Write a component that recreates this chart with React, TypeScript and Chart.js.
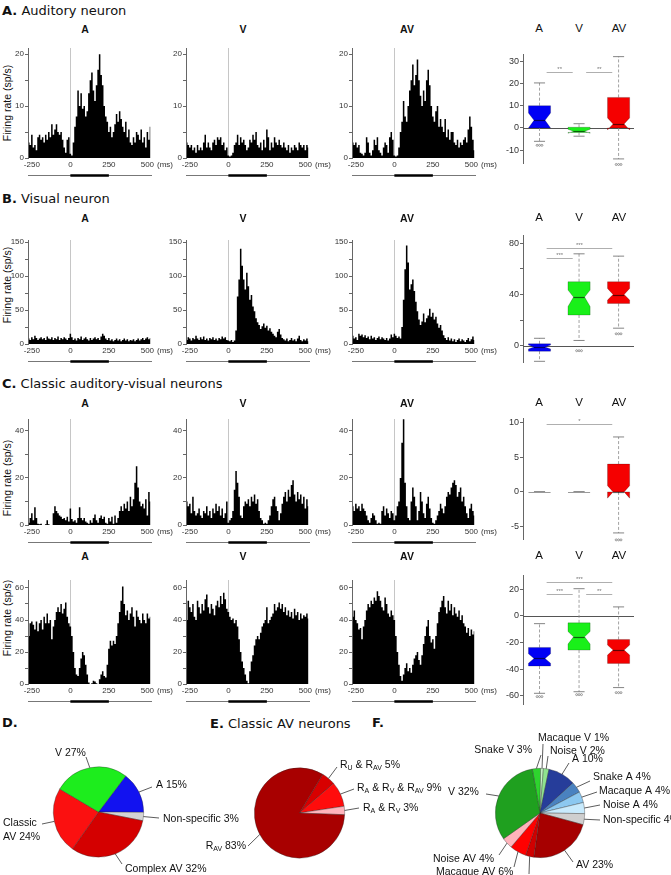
import React, { useEffect, useRef } from 'react';
import { Chart, registerables } from 'chart.js';

Chart.register(...registerables);
Chart.defaults.font.family = '"Liberation Sans", Arial, sans-serif';

// ---------- PSTH data (10 ms bins, bin centres in ms) ----------
const TIME_BINS = [
  -270, -260, -250, -240, -230, -220, -210, -200, -190, -180,
  -170, -160, -150, -140, -130, -120, -110, -100, -90, -80,
  -70, -60, -50, -40, -30, -20, -10, 0, 10, 20,
  30, 40, 50, 60, 70, 80, 90, 100, 110, 120,
  130, 140, 150, 160, 170, 180, 190, 200, 210, 220,
  230, 240, 250, 260, 270, 280, 290, 300, 310, 320,
  330, 340, 350, 360, 370, 380, 390, 400, 410, 420,
  430, 440, 450, 460, 470, 480, 490, 500, 510, 520,
];
const X_TICKS = [-250, 0, 250, 500];
const STIM_WINDOW = [0, 250];
const CONDITIONS = ['A', 'V', 'AV'];

// A. auditory neuron
const audA = [
  3, 2.5, 4.5, 2, 2.5, 1.5, 4, 4.5, 3.5, 4,
  3, 4.5, 3.5, 5, 4, 6.5, 4.5, 5.5, 6.5, 5,
  4.5, 5, 3.5, 2, 1, 3.5, 4, 0.8, 0.5, 3,
  6, 8, 13, 10, 12.5, 9.5, 10, 8, 9, 12.5,
  15, 16.5, 13, 11, 14, 17, 20, 16, 14, 10,
  8, 7, 5, 6, 4, 5, 6.5, 8.5, 7, 9,
  7.5, 6, 5, 7, 4, 5.5, 3, 2.5, 4, 3,
  5, 4.5, 3.5, 5.5, 3, 4, 2, 5, 3.5, 6,
];
const audV = [
  3, 2.5, 2, 2.5, 1.5, 2, 1, 2.5, 1.5, 2,
  1.5, 3, 4.5, 2, 3, 2, 1.5, 3, 3.5, 2.5,
  4, 3.5, 4, 2.5, 3, 1.5, 2, 0.5, 0.3, 0.5,
  1, 2.5, 3, 4.5, 2.5, 4, 3, 3.5, 2.5, 1.5,
  2, 3.5, 3, 4.5, 3.5, 5, 2.5, 2, 3, 1.5,
  3.5, 2, 5.5, 4, 1.5, 3, 2, 4, 3, 2.5,
  3.5, 2.5, 2, 3, 2, 1.5, 2.5, 1, 2, 1.5,
  2.5, 2, 1.5, 3, 2.5, 2, 2.5, 1.5, 2.5, 2,
];
const audAV = [
  3, 2.5, 3, 2, 2.5, 1, 0.8, 0.5, 1, 4,
  3, 1, 0.5, 1.5, 3.5, 2.5, 4, 1.5, 1, 0.5,
  2, 3, 2.5, 1, 4, 5, 3.5, 0.5, 0.3, 0.5,
  2, 5, 7, 11, 8, 7, 10, 13, 15, 18,
  14, 16, 19, 15, 12, 10, 13, 11, 15, 17,
  14, 10, 8, 7, 9, 10, 6, 7.5, 6, 5,
  7.5, 4, 5.5, 3.5, 5, 5, 3, 2.5, 3.5, 2,
  3, 2.5, 3.5, 4, 3, 5.5, 8, 6, 3.5, 1.5,
];

// B. visual neuron
const visA = [
  8, 6, 10, 7, 12, 9, 6, 8, 10, 7,
  9, 6, 11, 8, 7, 10, 6, 9, 7, 11,
  6, 9, 7, 10, 8, 6, 9, 15, 10, 6,
  8, 5, 9, 7, 11, 6, 8, 10, 7, 5,
  9, 6, 8, 10, 7, 9, 6, 11, 15, 12,
  8, 6, 9, 5, 7, 4, 6, 8, 5, 7,
  4, 6, 8, 5, 7, 4, 6, 5, 7, 4,
  6, 8, 5, 7, 9, 6, 8, 10, 7, 9,
];
const visV = [
  6, 10, 8, 5, 9, 7, 12, 8, 6, 10,
  7, 11, 6, 8, 5, 9, 7, 10, 6, 8,
  5, 9, 7, 11, 8, 10, 6, 5, 4, 6,
  3, 5, 20, 70, 95, 140, 115, 95, 80, 105,
  85, 65, 72, 55, 48, 38, 32, 28, 22, 26,
  30, 24, 27, 20, 23, 18, 15, 12, 10, 18,
  22, 14, 9, 7, 5, 8, 4, 6, 9, 5,
  7, 4, 8, 12, 6, 4, 7, 5, 8, 4,
];
const visAV = [
  12, 8, 10, 6, 15, 12, 14, 10, 13, 9,
  11, 7, 12, 8, 10, 6, 9, 11, 7, 10,
  8, 6, 9, 5, 8, 14, 10, 15, 12, 9,
  11, 8, 25, 65, 110, 145, 120, 80, 88, 95,
  78, 62, 48, 36, 28, 33, 45, 32, 38, 42,
  52, 40, 46, 36, 40, 30, 24, 28, 20, 13,
  9, 6, 10, 5, 8, 4, 7, 3, 6, 8,
  4, 7, 5, 3, 6, 9, 4, 7, 11, 6,
];

// C. classic auditory-visual neurons
const clsA = [
  1, 3, 5, 2, 7.5, 3, 0.5, 0.3, 0.5, 0,
  0, 0.3, 2, 0.3, 0, 0, 5, 8, 6, 5,
  4, 3.5, 2.5, 3, 2, 3.5, 1.5, 7, 2.5, 1.5,
  2, 1, 3, 7.5, 3, 2, 3, 1.5, 1, 0.5,
  2, 1, 3, 4.5, 2, 1, 3, 4, 2.5, 3.5,
  1, 0.5, 3, 1.5, 3.5, 0.5, 4, 1, 3, 6,
  8, 6, 9, 7, 10, 6, 12, 8, 11, 18,
  25, 16, 10, 8, 9, 7, 11, 4, 14, 10,
];
const clsV = [
  10, 8, 9, 5, 12, 6, 4, 5, 7, 4,
  3, 6, 5, 8, 4, 6, 3, 7, 5, 9,
  6, 8, 4, 7, 3, 5, 10, 1, 2, 3,
  6, 15, 23, 18, 12, 4, 3, 8, 10, 9,
  11, 8, 12, 10, 13, 9, 11, 6, 3, 2,
  0.5, 1, 0.5, 2, 4, 8, 11, 12, 8, 6,
  2, 5, 9, 12, 14, 10, 15, 12, 17, 19,
  13, 10, 14, 11, 13, 9, 12, 7, 11, 8,
];
const clsAV = [
  8, 6, 9, 7, 8, 6, 9, 7, 6, 4,
  2, 1, 3, 5, 4, 2, 0.5, 1, 0.5, 6,
  8, 4, 7, 5, 3, 6, 5, 2, 4, 8,
  10, 20, 35, 45, 18, 8, 3, 2, 10, 16,
  12, 8, 2, 6, 14, 10, 5, 3, 9, 12,
  7, 3, 1, 0.5, 2, 4, 6, 9, 7, 5,
  8, 12, 14, 13, 16, 18, 19, 17, 12, 14,
  16, 10, 12, 8, 5, 3, 7, 9, 6, 4,
];

// C (second row). suppressed / complex neuron
const cpxA = [
  30, 38, 39, 37, 34, 39, 33, 38, 40, 34,
  42, 38, 44, 38, 40, 28, 36, 40, 45, 48,
  45, 50, 44, 47, 51, 42, 38, 36, 30, 20,
  10, 6, 5, 10, 16, 20, 18, 12, 6, 1,
  0, 0.5, 2, 1.5, 0.5, 0, 3, 6, 8, 5,
  4, 12, 22, 27, 24, 27, 25, 30, 38, 45,
  52, 61, 50, 43, 46, 40, 44, 48, 42, 36,
  46, 42, 40, 38, 44, 40, 38, 44, 41, 42,
];
const cpxV = [
  40, 52, 48, 45, 50, 42, 40, 52, 48, 44,
  50, 46, 53, 56, 48, 44, 50, 47, 43, 49,
  52, 48, 55, 50, 57, 53, 47, 45, 42, 40,
  41, 38, 40, 36, 28, 20, 14, 10, 6, 2,
  0.5, 8, 14, 18, 24, 28, 30, 28, 32, 36,
  38, 40, 48, 38, 40, 42, 44, 50, 46, 48,
  51, 47, 50, 45, 48, 43, 46, 42, 45, 41,
  47, 43, 45, 40, 44, 41, 43, 42, 44, 41,
];
const cpxAV = [
  42, 46, 40, 38, 34, 35, 28, 36, 40, 46,
  50, 48, 52, 50, 54, 52, 58, 55, 52, 48,
  46, 54, 50, 44, 42, 46, 43, 40, 30, 20,
  12, 5, 2, 6, 10, 13, 8, 10, 7, 12,
  16, 18, 20, 15, 12, 18, 25, 30, 36, 40,
  30, 26, 28, 22, 30, 38, 45, 48, 52, 55,
  48, 44, 52, 46, 50, 43, 48, 44, 42, 46,
  40, 43, 38, 36, 32, 35, 30, 34, 31, 33,
];

// ---------- box-plot summaries (A, V, AV) ----------
const audQ1 = [0, -2, 0];
const audMed = [3.4, -1.5, 1.8];
const audQ3 = [10, 0.3, 13.7];
const audLo = [-6, -3.7, -13.9];
const audHi = [20.2, 1.9, 32];
const audNotchLo = [0, -2.4, -0.9];
const audNotchHi = [6.7, -0.6, 4.5];
const audOut = [[-7.8], [], [-16.4]];
const audSig = [[0, 1, 25.2, '**'], [1, 2, 25.2, '**']];

const visQ1 = [-4.3, 24, 33];
const visMed = [-1, 38, 40];
const visQ3 = [1.5, 50, 50];
const visLo = [-12.2, 4.1, 13.7];
const visHi = [5.8, 71.8, 70];
const visNotchLo = [-2.5, 30.6, 35.7];
const visNotchHi = [0.5, 43.5, 44.8];
const visOut = [[], [-3.9], [9.3]];
const visSig = [[0, 1, 68.3, '***'], [0, 2, 76.7, '***']];

const clsQ1 = [0, 0, 0];
const clsMed = [0, 0, 0];
const clsQ3 = [0, 0, 4];
const clsLo = [0, 0, -5.9];
const clsHi = [0, 0, 7.9];
const clsNotchLo = [0, 0, -0.9];
const clsNotchHi = [0, 0, 0.9];
const clsOut = [[], [], [-6.9]];
const clsSig = [[0, 2, 9.7, '*']];

const cpxQ1 = [-37.7, -25.7, -35.7];
const cpxMed = [-32, -15.7, -25.7];
const cpxQ3 = [-23.7, -5.2, -17.7];
const cpxLo = [-58.2, -57, -53.9];
const cpxHi = [-5.8, 20.5, 6.8];
const cpxNotchLo = [-35.5, -21.2, -29.4];
const cpxNotchHi = [-28.5, -11.7, -21.9];
const cpxOut = [[-60.7], [-59.2], [-57.7]];
const cpxSig = [[0, 1, 16.7, '***'], [1, 2, 16.7, '**'], [0, 2, 25.5, '***']];

const BOX_FILL = ['#0000f5', '#19f019', '#f50000'];

// ---------- pie data ----------
const typeNames = ['A', 'Non-specific', 'Complex AV', 'Classic AV', 'V'];
const typeShares = [15, 3, 32, 24, 27];
const typeColors = ['#1212f0', '#d4d4d4', '#d40000', '#fb1010', '#1ded1d'];

const classicNames = ['R_{U} & R_{AV}', 'R_{A} & R_{V} & R_{AV}', 'R_{A} & R_{V}', 'R_{AV}'];
const classicShares = [5, 9, 3, 83];
const classicColors = ['#d80000', '#ff0c0c', '#ffb4bc', '#a80000'];

const stimNames = [
  'Snake V', 'Macaque V', 'Noise V', 'A', 'Snake A', 'Macaque A', 'Noise A',
  'Non-specific', 'AV', 'Snake AV', 'Macaque AV', 'Noise AV', 'V',
];
const stimShares = [3, 1, 2, 10, 4, 4, 4, 4, 23, 3, 6, 4, 32];
const stimColors = [
  '#2ed42e', '#c4f5c4', '#8fe38f', '#263d9a', '#4a82c0', '#8cc8f0', '#c8eafc',
  '#cfcfcf', '#a60000', '#d00000', '#ff0000', '#ffb3bb', '#1fa01f',
];

// ---------- layout ----------
const LABEL_FONT = '"Liberation Sans", Arial, sans-serif';
const TITLE_FONT = '"DejaVu Sans", Verdana, sans-serif';

const HIST_COLS = [28, 186, 352];
const HIST_W = 124;
const X_MIN = -275;
const X_MAX = 530;

const BOX_LEFT = 523;
const BOX_RIGHT = 634;
const BOX_X_MIN = 0.582;
const BOX_X_MAX = 3.39;

// ---------- chart helpers ----------
const histDecor = {
  id: 'histDecor',
  beforeDatasetsDraw(chart: any) {
    const { ctx, chartArea: a } = chart;
    const x = chart.scales.x;
    const px = Math.round(x.getPixelForValue(0)) + 0.5;
    ctx.save();
    ctx.strokeStyle = 'rgba(170,170,170,0.85)';
    ctx.lineWidth = 0.8;
    ctx.beginPath();
    ctx.moveTo(px, a.top);
    ctx.lineTo(px, a.bottom);
    ctx.stroke();
    ctx.restore();
  },
  afterDraw(chart: any) {
    const { ctx, chartArea: a } = chart;
    const x = chart.scales.x;
    const yb = Math.round(a.bottom + 17) + 0.5;
    ctx.save();
    ctx.strokeStyle = '#777';
    ctx.lineWidth = 1;
    ctx.beginPath();
    ctx.moveTo(a.left, yb);
    ctx.lineTo(a.right, yb);
    ctx.stroke();
    ctx.strokeStyle = '#000';
    ctx.lineWidth = 2.5;
    ctx.beginPath();
    ctx.moveTo(x.getPixelForValue(STIM_WINDOW[0]), yb);
    ctx.lineTo(x.getPixelForValue(STIM_WINDOW[1]), yb);
    ctx.stroke();
    ctx.fillStyle = '#333';
    ctx.font = `8px ${LABEL_FONT}`;
    ctx.textAlign = 'left';
    ctx.textBaseline = 'middle';
    ctx.fillText('(ms)', a.right + 5, a.bottom + 6.5);
    ctx.restore();
  },
};

function stepTicks(min: number, max: number, step: number) {
  const out: { value: number }[] = [];
  const start = Math.ceil(min / step - 1e-9) * step;
  for (let v = start; v <= max + 1e-9; v += step) out.push({ value: Math.round(v * 1000) / 1000 });
  return out;
}

function yAxis(min: number, max: number, step: number, labelStep: number, width: number, size: number) {
  return {
    type: 'linear',
    min,
    max,
    grid: { drawOnChartArea: false, drawTicks: true, tickLength: 3, color: '#666' },
    border: { display: true, color: '#666', width: 1 },
    afterBuildTicks: (s: any) => {
      s.ticks = stepTicks(min, max, step);
    },
    ticks: {
      padding: 1,
      color: '#333',
      font: { size },
      autoSkip: false,
      callback: (v: any) => (Math.abs(v % labelStep) < 1e-6 ? String(v) : ''),
    },
    afterFit: (s: any) => {
      s.width = width;
    },
  };
}

function histConfig(values: number[], yMax: number, yStep: number, yLabelStep: number) {
  return {
    type: 'line',
    data: {
      datasets: [
        {
          data: TIME_BINS.map((t, i) => ({ x: t, y: values[i] })),
          backgroundColor: '#000',
          borderColor: '#000',
          borderWidth: 0,
          pointRadius: 0,
          stepped: 'middle',
          fill: 'origin',
        },
      ],
    },
    options: {
      animation: false,
      responsive: false,
      events: [],
      layout: { padding: { top: 8, right: 32, bottom: 0, left: 0 } },
      plugins: { legend: { display: false }, tooltip: { enabled: false } },
      scales: {
        x: {
          type: 'linear',
          min: X_MIN,
          max: X_MAX,
          offset: false,
          grid: { display: false, drawTicks: false },
          border: { display: false },
          afterBuildTicks: (s: any) => {
            s.ticks = X_TICKS.map((v) => ({ value: v }));
          },
          ticks: {
            autoSkip: false,
            maxRotation: 0,
            padding: 2,
            color: '#333',
            font: { size: 8 },
            callback: (v: any) => String(v),
          },
          afterFit: (s: any) => {
            s.height = 24;
          },
        },
        y: yAxis(0, yMax, yStep, yLabelStep, 26, 8),
      },
    },
    plugins: [histDecor],
  };
}

type BoxStats = {
  q1: number[];
  med: number[];
  q3: number[];
  lo: number[];
  hi: number[];
  nLo: number[];
  nHi: number[];
  out: number[][];
  sig: any[];
};

function makeBoxPlugin(s: BoxStats, zeroLine: boolean) {
  return {
    id: 'notchedBoxes',
    afterDatasetsDraw(chart: any) {
      const { ctx, chartArea: a } = chart;
      const x = chart.scales.x;
      const y = chart.scales.y;
      const py = (v: number) => y.getPixelForValue(v);
      ctx.save();
      if (zeroLine) {
        const y0 = Math.round(py(0)) + 0.5;
        ctx.strokeStyle = '#555';
        ctx.lineWidth = 1;
        ctx.beginPath();
        ctx.moveTo(a.left, y0);
        ctx.lineTo(a.right, y0);
        ctx.stroke();
      }
      s.sig.forEach(([i, j, v, lab]: any) => {
        const x1 = x.getPixelForValue(i + 1 + 0.18);
        const x2 = x.getPixelForValue(j + 1 - 0.16);
        const yy = Math.round(py(v)) + 0.5;
        ctx.strokeStyle = '#9a9a9a';
        ctx.lineWidth = 0.8;
        ctx.beginPath();
        ctx.moveTo(x1, yy);
        ctx.lineTo(x2, yy);
        ctx.stroke();
        ctx.fillStyle = '#777';
        ctx.font = `6px ${LABEL_FONT}`;
        ctx.textAlign = 'center';
        ctx.textBaseline = 'bottom';
        ctx.fillText(lab, (x1 + x2) / 2, yy);
      });
      CONDITIONS.forEach((_, i) => {
        const c = x.getPixelForValue(i + 1);
        const hw = x.getPixelForValue(i + 1 + 0.28) - c;
        const L = c - hw;
        const R = c + hw;
        const ind = hw * 0.5;
        const flat = s.q3[i] <= s.q1[i];
        // whiskers
        ctx.setLineDash([3, 2]);
        ctx.strokeStyle = '#8a8a8a';
        ctx.lineWidth = 0.8;
        ctx.beginPath();
        ctx.moveTo(c, py(s.q3[i]));
        ctx.lineTo(c, py(s.hi[i]));
        ctx.moveTo(c, py(s.q1[i]));
        ctx.lineTo(c, py(s.lo[i]));
        ctx.stroke();
        ctx.setLineDash([]);
        ctx.strokeStyle = '#666';
        ctx.lineWidth = 0.8;
        ctx.beginPath();
        ctx.moveTo(c - hw / 2, py(s.hi[i]));
        ctx.lineTo(c + hw / 2, py(s.hi[i]));
        ctx.moveTo(c - hw / 2, py(s.lo[i]));
        ctx.lineTo(c + hw / 2, py(s.lo[i]));
        ctx.stroke();
        if (!flat) {
          ctx.beginPath();
          ctx.moveTo(L, py(s.q1[i]));
          ctx.lineTo(R, py(s.q1[i]));
          ctx.lineTo(R, py(s.nLo[i]));
          ctx.lineTo(R - ind, py(s.med[i]));
          ctx.lineTo(R, py(s.nHi[i]));
          ctx.lineTo(R, py(s.q3[i]));
          ctx.lineTo(L, py(s.q3[i]));
          ctx.lineTo(L, py(s.nHi[i]));
          ctx.lineTo(L + ind, py(s.med[i]));
          ctx.lineTo(L, py(s.nLo[i]));
          ctx.closePath();
          ctx.fillStyle = BOX_FILL[i];
          ctx.fill();
          ctx.strokeStyle = 'rgba(0,0,0,0.35)';
          ctx.lineWidth = 0.6;
          ctx.stroke();
        }
        ctx.strokeStyle = flat ? '#9a9a9a' : 'rgba(0,0,0,0.6)';
        ctx.lineWidth = flat ? 1 : 1.2;
        ctx.beginPath();
        ctx.moveTo(flat ? L : L + ind, Math.round(py(s.med[i])) + 0.5);
        ctx.lineTo(flat ? R : R - ind, Math.round(py(s.med[i])) + 0.5);
        ctx.stroke();
        ctx.strokeStyle = '#777';
        ctx.lineWidth = 0.7;
        s.out[i].forEach((v) => {
          [-2.4, 0, 2.4].forEach((d) => {
            ctx.beginPath();
            ctx.arc(c + d, py(v), 1, 0, Math.PI * 2);
            ctx.stroke();
          });
        });
      });
      ctx.restore();
    },
  };
}

function boxConfig(s: BoxStats, yMin: number, yMax: number, step: number, labelStep: number, zero: boolean) {
  return {
    type: 'scatter',
    data: { datasets: [{ data: [] as any[] }] },
    options: {
      animation: false,
      responsive: false,
      events: [],
      layout: { padding: { top: 6, bottom: 6, left: 0, right: 0 } },
      plugins: { legend: { display: false }, tooltip: { enabled: false } },
      scales: {
        x: { type: 'linear', display: false, min: BOX_X_MIN, max: BOX_X_MAX },
        y: yAxis(yMin, yMax, step, labelStep, 24, 9),
      },
    },
    plugins: [makeBoxPlugin(s, zero)],
  };
}

// rich text with R_{sub} style subscripts
function drawRich(ctx: CanvasRenderingContext2D, text: string, x: number, y: number, align: string) {
  const parts: { t: string; sub: boolean }[] = [];
  const re = /_\{([^}]*)\}/g;
  let last = 0;
  let m: RegExpExecArray | null;
  while ((m = re.exec(text))) {
    if (m.index > last) parts.push({ t: text.slice(last, m.index), sub: false });
    parts.push({ t: m[1], sub: true });
    last = m.index + m[0].length;
  }
  if (last < text.length) parts.push({ t: text.slice(last), sub: false });
  const big = `10.5px ${LABEL_FONT}`;
  const small = `7px ${LABEL_FONT}`;
  let total = 0;
  parts.forEach((p) => {
    ctx.font = p.sub ? small : big;
    total += ctx.measureText(p.t).width;
  });
  let cx = align === 'right' ? x - total : x;
  ctx.textAlign = 'left';
  ctx.textBaseline = 'middle';
  parts.forEach((p) => {
    ctx.font = p.sub ? small : big;
    ctx.fillText(p.t, cx, p.sub ? y + 3 : y);
    cx += ctx.measureText(p.t).width;
  });
}

type PieLabel = { tx: number; ty: number; ex: number; ey: number; align?: string; split?: boolean };

function makePieLabels(names: string[], shares: number[], layout: PieLabel[], ox: number, oy: number) {
  return {
    id: 'pieLabels',
    afterDraw(chart: any) {
      const ctx = chart.ctx;
      const arcs = chart.getDatasetMeta(0).data;
      ctx.save();
      arcs.forEach((arc: any, i: number) => {
        const p = arc.getProps(['x', 'y', 'startAngle', 'endAngle', 'outerRadius'], true);
        const mid = (p.startAngle + p.endAngle) / 2;
        const sx = p.x + Math.cos(mid) * p.outerRadius;
        const sy = p.y + Math.sin(mid) * p.outerRadius;
        const L = layout[i];
        ctx.strokeStyle = '#333';
        ctx.lineWidth = 0.8;
        ctx.beginPath();
        ctx.moveTo(sx, sy);
        ctx.lineTo(L.ex - ox, L.ey - oy);
        ctx.stroke();
        ctx.fillStyle = '#111';
        const label = `${names[i]} ${shares[i]}%`;
        if (L.split) {
          const k = label.indexOf(' ');
          drawRich(ctx, label.slice(0, k), L.tx - ox, L.ty - oy, L.align || 'left');
          drawRich(ctx, label.slice(k + 1), L.tx - ox, L.ty - oy + 14, L.align || 'left');
        } else {
          drawRich(ctx, label, L.tx - ox, L.ty - oy, L.align || 'left');
        }
      });
      ctx.restore();
    },
  };
}

function pieConfig(
  names: string[],
  shares: number[],
  colors: string[],
  rotation: number,
  padding: any,
  layout: PieLabel[],
  ox: number,
  oy: number,
) {
  return {
    type: 'pie',
    data: {
      labels: names,
      datasets: [{ data: shares, backgroundColor: colors, borderColor: 'rgba(40,40,40,0.5)', borderWidth: 0.7 }],
    },
    options: {
      animation: false,
      responsive: false,
      events: [],
      rotation,
      layout: { padding },
      plugins: { legend: { display: false }, tooltip: { enabled: false } },
    },
    plugins: [makePieLabels(names, shares, layout, ox, oy)],
  };
}

// ---------- components ----------
function ChartCanvas({ left, top, width, height, build }: any) {
  const ref = useRef<HTMLCanvasElement | null>(null);
  useEffect(() => {
    if (!ref.current) return;
    const chart = new Chart(ref.current, build());
    return () => chart.destroy();
  }, []);
  return (
    <canvas
      ref={ref}
      width={width}
      height={height}
      style={{ position: 'absolute', left, top, width, height, display: 'block' }}
    />
  );
}

function Label({ x, y, children, size = 10, bold = false, family = LABEL_FONT, center = true, rotate = false }: any) {
  const tf = rotate
    ? 'translate(-50%, -50%) rotate(-90deg)'
    : center
      ? 'translate(-50%, -50%)'
      : 'translateY(-50%)';
  return (
    <div
      style={{
        position: 'absolute',
        left: x,
        top: y,
        transform: tf,
        fontFamily: family,
        fontSize: size,
        fontWeight: bold ? 'bold' : 'normal',
        lineHeight: 1,
        whiteSpace: 'nowrap',
        color: '#111',
      }}
    >
      {children}
    </div>
  );
}

function Section({ x, y, letter, text }: any) {
  return (
    <Label x={x} y={y} size={13} family={TITLE_FONT} center={false}>
      <b>{letter}</b>
      {text}
    </Label>
  );
}

const HIST_ROWS = [
  { top: 48, h: 110, data: [audA, audV, audAV], yMax: 21.2, step: 5, label: 10, head: 29, title: 103 },
  { top: 240, h: 104, data: [visA, visV, visAV], yMax: 153, step: 25, label: 50, head: 218, title: 285 },
  { top: 419, h: 106, data: [clsA, clsV, clsAV], yMax: 45.1, step: 10, label: 20, head: 403, title: 478 },
  { top: 580, h: 104, data: [cpxA, cpxV, cpxAV], yMax: 65, step: 10, label: 20, head: 556, title: 618 },
];

const BOX_ROWS = [
  {
    top: 54, bottom: 164, min: -16, max: 33, step: 10, label: 10, zero: true,
    stats: { q1: audQ1, med: audMed, q3: audQ3, lo: audLo, hi: audHi, nLo: audNotchLo, nHi: audNotchHi, out: audOut, sig: audSig },
  },
  {
    top: 235, bottom: 363, min: -13.2, max: 86.2, step: 20, label: 40, zero: true,
    stats: { q1: visQ1, med: visMed, q3: visQ3, lo: visLo, hi: visHi, nLo: visNotchLo, nHi: visNotchHi, out: visOut, sig: visSig },
  },
  {
    top: 418, bottom: 540, min: -6.86, max: 10.57, step: 5, label: 5, zero: false,
    stats: { q1: clsQ1, med: clsMed, q3: clsQ3, lo: clsLo, hi: clsHi, nLo: clsNotchLo, nHi: clsNotchHi, out: clsOut, sig: clsSig },
  },
  {
    top: 575, bottom: 705, min: -66.7, max: 30.5, step: 20, label: 20, zero: true,
    stats: { q1: cpxQ1, med: cpxMed, q3: cpxQ3, lo: cpxLo, hi: cpxHi, nLo: cpxNotchLo, nHi: cpxNotchHi, out: cpxOut, sig: cpxSig },
  },
];

const HEAD_X = [85, 243, 407];
const BOX_HEAD_X = [539, 579, 619];

const TYPE_LABELS: PieLabel[] = [
  { tx: 156, ty: 785, ex: 152, ey: 787 },
  { tx: 163, ty: 819, ex: 159, ey: 818 },
  { tx: 125, ty: 869, ex: 122, ey: 864 },
  { tx: 3, ty: 823, ex: 42, ey: 824, split: true },
  { tx: 55, ty: 753, ex: 86, ey: 757 },
];
const CLASSIC_LABELS: PieLabel[] = [
  { tx: 340, ty: 765, ex: 337, ey: 767 },
  { tx: 357, ty: 788, ex: 354, ey: 789 },
  { tx: 363, ty: 808, ex: 359, ey: 808 },
  { tx: 246, ty: 846, ex: 248, ey: 846, align: 'right' },
];
const STIM_LABELS: PieLabel[] = [
  { tx: 532, ty: 750, ex: 541, ey: 755, align: 'right' },
  { tx: 538, ty: 738, ex: 543, ey: 744 },
  { tx: 550, ty: 751, ex: 548, ey: 756 },
  { tx: 572, ty: 759, ex: 569, ey: 763 },
  { tx: 593, ty: 777, ex: 590, ey: 781 },
  { tx: 599, ty: 791, ex: 597, ey: 792 },
  { tx: 603, ty: 805, ex: 600, ey: 805 },
  { tx: 603, ty: 820, ex: 600, ey: 820 },
  { tx: 576, ty: 865, ex: 573, ey: 862 },
  { tx: 527, ty: 882, ex: 529, ey: 874 },
  { tx: 436, ty: 872, ex: 514, ey: 867 },
  { tx: 433, ty: 859, ex: 499, ey: 855 },
  { tx: 448, ty: 792, ex: 486, ey: 794 },
];

export default function App() {
  return (
    <div
      style={{
        position: 'absolute',
        left: 0,
        top: 0,
        width: 671,
        height: 875,
        overflow: 'hidden',
        background: '#fff',
      }}
    >
      <Section x={2} y={10} letter="A." text=" Auditory neuron" />
      <Section x={2} y={198} letter="B." text=" Visual neuron" />
      <Section x={2} y={383} letter="C." text=" Classic auditory-visual neurons" />
      <Section x={2} y={722} letter="D." text="" />
      <Section x={210} y={723} letter="E." text=" Classic AV neurons" />
      <Section x={372} y={722} letter="F." text="" />

      {HIST_ROWS.map((row, r) => (
        <React.Fragment key={`h${r}`}>
          <Label x={7} y={row.title} size={10.5} rotate>
            Firing rate (sp/s)
          </Label>
          {CONDITIONS.map((c, k) => (
            <React.Fragment key={`h${r}${k}`}>
              <Label x={HEAD_X[k]} y={row.head} size={10.5} bold>
                {c}
              </Label>
              <ChartCanvas
                left={HIST_COLS[k] - 26}
                top={row.top - 8}
                width={26 + HIST_W + 32}
                height={8 + row.h + 24}
                build={() => histConfig(row.data[k], row.yMax, row.step, row.label)}
              />
            </React.Fragment>
          ))}
        </React.Fragment>
      ))}

      {BOX_ROWS.map((row, r) => (
        <React.Fragment key={`b${r}`}>
          {CONDITIONS.map((c, k) => (
            <Label key={`bh${r}${k}`} x={BOX_HEAD_X[k]} y={HIST_ROWS[r].head} size={11.5}>
              {c}
            </Label>
          ))}
          <ChartCanvas
            left={BOX_LEFT - 24}
            top={row.top - 6}
            width={24 + BOX_RIGHT - BOX_LEFT}
            height={row.bottom - row.top + 12}
            build={() => boxConfig(row.stats as BoxStats, row.min, row.max, row.step, row.label, row.zero)}
          />
        </React.Fragment>
      ))}

      <ChartCanvas
        left={0}
        top={730}
        width={250}
        height={145}
        build={() =>
          pieConfig(typeNames, typeShares, typeColors, 37, { left: 53, top: 36.5, right: 106, bottom: 17.5 }, TYPE_LABELS, 0, 730)
        }
      />
      <ChartCanvas
        left={200}
        top={730}
        width={300}
        height={145}
        build={() =>
          pieConfig(classicNames, classicShares, classicColors, 31, { left: 54, top: 37.5, right: 155, bottom: 16.5 }, CLASSIC_LABELS, 200, 730)
        }
      />
      <ChartCanvas
        left={420}
        top={730}
        width={251}
        height={160}
        build={() =>
          pieConfig(stimNames, stimShares, stimColors, -10, { left: 75, top: 38, right: 86, bottom: 32 }, STIM_LABELS, 420, 730)
        }
      />
    </div>
  );
}
